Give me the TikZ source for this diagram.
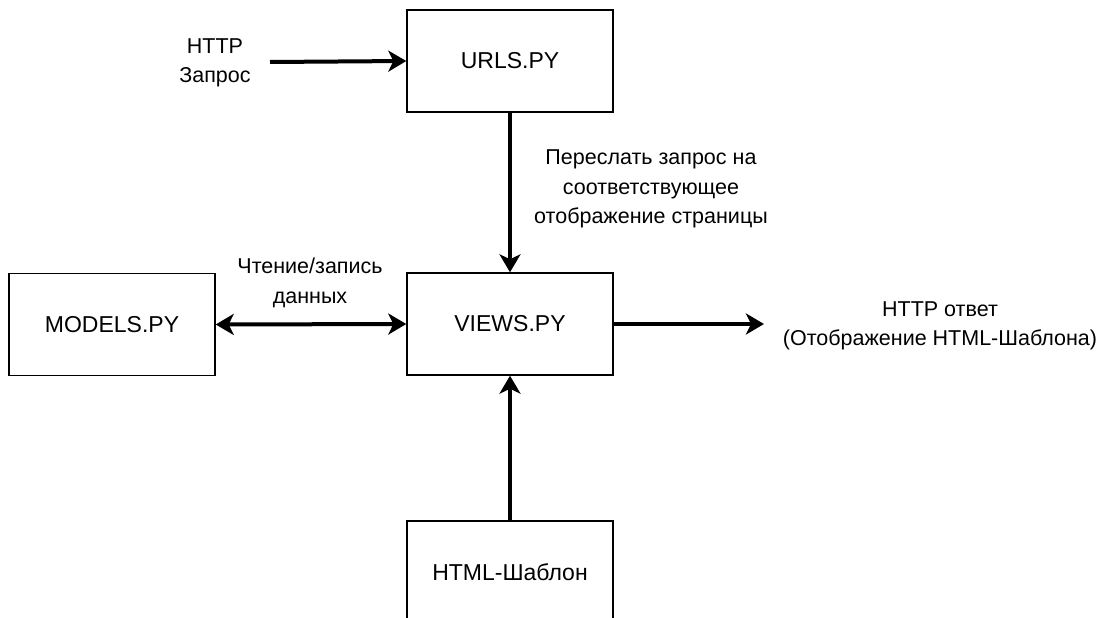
\documentclass[tikz,border=0pt]{standalone}
\usepackage{fontspec}
\setmainfont{Liberation Sans}
\usetikzlibrary{arrows.meta}

\tikzset{
  block/.style={draw=black, line width=1.4pt, fill=white, minimum width=206pt,
    minimum height=102pt, inner sep=0pt, font=\fontsize{23}{27}\selectfont},
  note/.style={align=center, inner sep=0pt, font=\fontsize{21.5}{29.5}\selectfont},
  flow/.style={line width=4pt, -{Stealth[length=18pt, width=21pt, inset=5pt]}},
  flowboth/.style={line width=4pt, {Stealth[length=18pt, width=21pt, inset=5pt]}-{Stealth[length=18pt, width=21pt, inset=5pt]}}
}

\begin{document}
\begin{tikzpicture}[x=1pt, y=-1pt]
  \useasboundingbox[fill=white] (0,0) rectangle (1106,618);

  % blocks
  \node[block] (urls)   at (510,61)    {URLS.PY};
  \node[block] (views)  at (510,324)   {VIEWS.PY};
  \node[block] (models) at (112,324.5) {MODELS.PY};
  \node[block] (html)   at (510,572)   {HTML-Шаблон};

  % incoming request
  \node[note] (req) at (215,63) {HTTP\\Запрос};
  \coordinate (reqstart) at (270,62);
  \draw[flow] (reqstart) -- (urls.west);

  % urls -> views
  \draw[flow] (urls.south) -- (views.north);
  \node[note] (fwd) at (651,189) {Переслать запрос на\\соответствующее\\отображение страницы};

  % models <-> views
  \draw[flowboth] (models.east) -- (views.west);
  \node[note] (rw) at (310,283) {Чтение/запись\\данных};

  % response
  \coordinate (respend) at (764,324);
  \draw[flow] (views.east) -- (respend);
  \node[note] (resp) at (940,326) {HTTP ответ\\(Отображение HTML-Шаблона)};

  % template -> views
  \draw[flow] (html.north) -- (views.south);
\end{tikzpicture}
\end{document}
